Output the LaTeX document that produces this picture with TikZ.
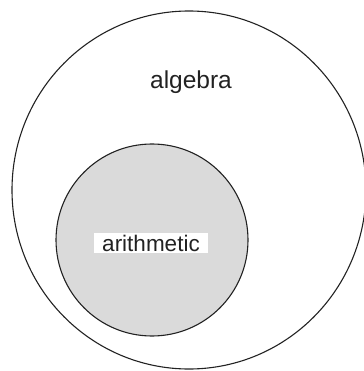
\documentclass[tikz,border=0pt]{standalone}
\usepackage{fontspec}
\setmainfont{Liberation Sans}
\usepackage{tikz}
\definecolor{shade}{HTML}{DADADA}
\definecolor{ink}{HTML}{222222}

\begin{document}
\begin{tikzpicture}[x=1pt,y=-1pt,
        ring/.style={draw=ink,line width=1.1pt},
        tag/.style={text=ink,anchor=base,inner sep=0pt}]
      \useasboundingbox (0,0) rectangle (363,371);
      \draw[ring] (189,190) ellipse [x radius=177,y radius=179];
      \draw[ring,fill=shade] (152,240) circle [radius=96];
      \node[tag,font=\fontsize{24.5}{28}\selectfont] (alg) at (191,89) {algebra};
      \node[tag,font=\fontsize{22.5}{26}\selectfont,fill=white,
            inner xsep=8pt,inner ysep=2pt] (arith) at (151,251) {arithmetic};
    \end{tikzpicture}
\end{document}
